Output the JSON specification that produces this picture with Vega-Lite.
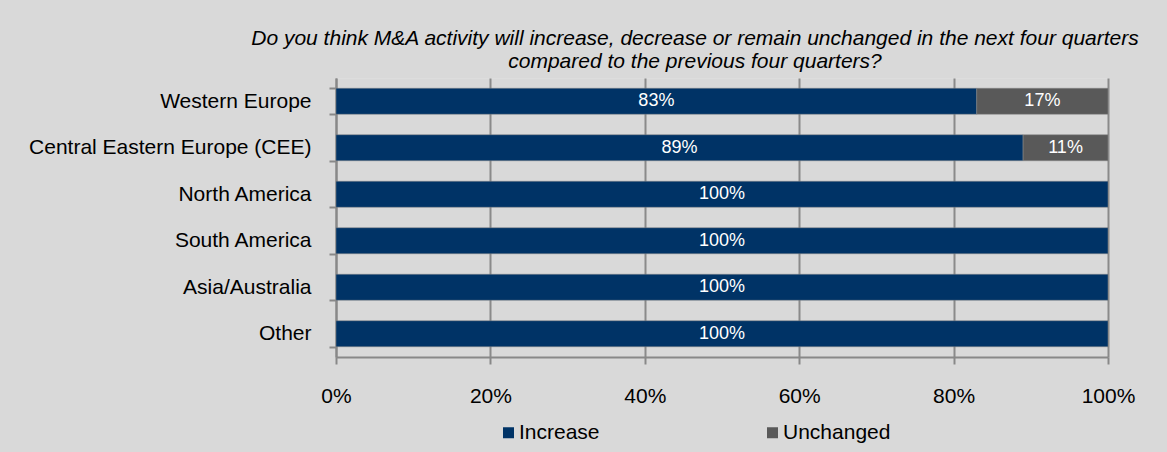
{
  "$schema": "https://vega.github.io/schema/vega-lite/v6.json",
  "autosize": {"type": "none"},
  "width": 772,
  "height": 279,
  "padding": {"left": 336, "top": 78, "right": 59, "bottom": 95},
  "background": "#d9d9d9",
  "title": {
    "text": ["Do you think M&A activity will increase, decrease or remain unchanged in the next four quarters", "compared to the previous four quarters?"],
    "anchor": "middle",
    "dx": -27,
    "offset": -5,
    "font": "Liberation Sans",
    "fontSize": 21,
    "fontStyle": "italic",
    "fontWeight": "normal",
    "color": "#000000",
    "lineHeight": 23
  },
  "data": {
    "values": [
      {"region": "Western Europe", "response": "Increase", "value": 83},
      {"region": "Western Europe", "response": "Unchanged", "value": 17},
      {"region": "Central Eastern Europe (CEE)", "response": "Increase", "value": 89},
      {"region": "Central Eastern Europe (CEE)", "response": "Unchanged", "value": 11},
      {"region": "North America", "response": "Increase", "value": 100},
      {"region": "South America", "response": "Increase", "value": 100},
      {"region": "Asia/Australia", "response": "Increase", "value": 100},
      {"region": "Other", "response": "Increase", "value": 100}
    ]
  },
  "encoding": {
    "y": {
      "field": "region",
      "type": "nominal",
      "sort": null,
      "scale": {"paddingInner": 0.44, "paddingOuter": 0.22},
      "axis": {
        "title": null,
        "domainColor": "#888888",
        "domainWidth": 2,
        "tickColor": "#888888",
        "tickWidth": 2,
        "tickSize": 7,
        "tickBand": "extent",
        "labelFont": "Liberation Sans",
        "labelFontSize": 21,
        "labelColor": "#000000",
        "labelPadding": 18,
        "labelLimit": 400,
        "grid": false
      }
    },
    "x": {
      "field": "value",
      "type": "quantitative",
      "stack": "zero",
      "scale": {"domain": [0, 100]},
      "axis": {
        "title": null,
        "values": [0, 20, 40, 60, 80, 100],
        "labelExpr": "datum.value + '%'",
        "grid": true,
        "gridColor": "#8a8a8a",
        "gridWidth": 2,
        "domainColor": "#888888",
        "domainWidth": 2,
        "tickColor": "#888888",
        "tickWidth": 2,
        "tickSize": 7,
        "labelFont": "Liberation Sans",
        "labelFontSize": 21,
        "labelColor": "#000000",
        "labelPadding": 21,
        "labelFlush": false
      }
    }
  },
  "layer": [
    {
      "mark": {"type": "bar", "stroke": "#8a8a8a", "strokeWidth": 0.5},
      "encoding": {
        "color": {
          "field": "response",
          "type": "nominal",
          "scale": {"domain": ["Increase", "Unchanged"], "range": ["#003366", "#595959"]},
          "legend": {
            "title": null,
            "orient": "none",
            "direction": "horizontal",
            "legendX": 162,
            "legendY": 344,
            "padding": 0,
            "symbolType": "square",
            "symbolSize": 121,
            "symbolStrokeWidth": 0,
            "labelFont": "Liberation Sans",
            "labelFontSize": 21,
            "labelColor": "#000000",
            "labelOffset": 0,
            "columnPadding": 162
          }
        },
        "order": {"field": "response", "sort": "ascending"}
      }
    },
    {
      "mark": {"type": "text", "color": "#ffffff", "font": "Liberation Sans", "fontSize": 18, "align": "center", "baseline": "middle"},
      "encoding": {
        "x": {"field": "value", "type": "quantitative", "stack": "zero", "bandPosition": 0.5},
        "text": {"field": "label", "type": "nominal"},
        "order": {"field": "response", "sort": "ascending"}
      },
      "transform": [{"calculate": "datum.value + '%'", "as": "label"}]
    }
  ]
}
